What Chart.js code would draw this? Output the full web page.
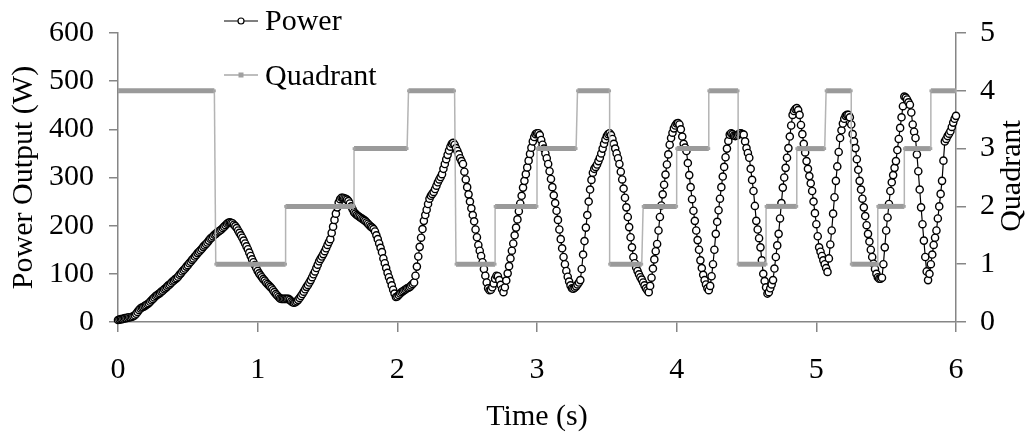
<!DOCTYPE html>
<html>
<head>
<meta charset="utf-8">
<script src="https://cdn.jsdelivr.net/npm/chart.js@4.4.1/dist/chart.umd.min.js"></script>
<style>
  html, body { margin: 0; padding: 0; background: #fff; }
  #wrap { width: 1026px; height: 435px; }
</style>
</head>
<body>
<div id="wrap"><canvas id="powerChart"></canvas></div>
<script>
const timeStep = 0.01;
const powerValues = [
  4,5,6,6,7,8,8,9,10,10,
  11,12,14,17,21,25,28,30,31,33,
  35,37,39,42,45,48,51,54,56,58,
  60,63,65,68,70,73,76,78,81,84,
  86,89,91,94,98,101,105,108,111,115,
  118,122,125,129,132,136,139,143,146,149,
  152,156,159,162,165,169,173,175,178,181,
  183,186,188,190,192,195,198,201,204,206,
  207,206,205,202,199,195,190,185,180,175,
  169,163,157,151,144,137,130,124,118,112,
  106,101,97,93,89,86,82,79,76,73,
  70,66,62,58,55,52,49,48,48,48,
  48,48,48,46,43,41,40,41,43,46,
  50,54,58,63,68,73,77,82,87,93,
  99,105,112,119,126,131,136,141,147,153,
  160,166,172,185,198,212,225,238,248,255,
  258,258,257,256,254,251,246,240,234,228,
  225,222,220,218,216,214,212,210,207,204,
  201,198,196,193,188,180,172,163,154,145,
  132,122,112,102,93,85,76,67,59,52,
  53,56,59,62,64,66,68,70,71,73,
  76,79,82,96,115,136,156,175,193,210,
  222,233,245,256,262,266,270,276,283,290,
  296,301,307,318,328,338,347,356,364,370,
  372,368,361,355,348,340,334,328,312,296,
  280,265,250,236,222,209,192,176,160,148,
  137,124,110,96,82,70,66,67,72,80,
  90,96,95,87,77,68,62,72,86,101,
  116,132,148,163,180,196,213,230,246,262,
  279,293,307,321,335,349,362,375,384,390,
  392,392,388,378,368,360,350,340,328,313,
  297,280,263,247,231,212,192,172,153,135,
  120,106,94,84,76,70,69,71,74,78,
  82,87,110,140,168,196,222,250,275,295,
  310,318,322,327,334,341,350,360,370,379,
  386,390,392,388,380,370,360,350,340,328,
  312,296,277,258,238,218,197,176,155,135,
  122,113,106,99,93,88,82,76,70,66,
  62,75,92,111,130,147,162,190,218,242,
  265,285,306,327,348,368,382,393,402,408,
  412,413,410,400,385,370,362,355,330,305,
  280,255,231,210,190,170,150,128,112,98,
  87,78,70,66,75,95,120,150,183,208,
  232,256,280,302,322,342,360,376,389,392,
  390,387,386,387,389,391,392,390,389,375,
  361,351,341,318,295,272,241,210,192,174,
  155,128,100,85,72,59,62,70,78,87,
  111,135,159,183,215,247,279,300,320,341,
  361,385,408,430,438,442,444,440,430,409,
  390,370,352,334,318,303,288,272,250,226,
  203,178,155,146,137,128,120,112,104,132,
  161,190,225,259,293,323,353,382,398,412,
  422,428,430,430,425,410,390,375,361,338,
  316,293,275,256,238,220,201,183,167,150,
  135,121,110,100,93,90,90,92,120,155,
  190,217,245,272,290,305,320,334,357,380,
  403,425,448,468,466,462,456,451,435,410,
  395,382,348,313,275,238,203,169,135,105,
  87,100,120,140,160,175,190,215,240,266,
  293,335,375,380,386,391,396,405,414,422,
  428
];

// quadrant steps: start time, end time, level
const qStart = [0.00, 0.70, 1.20, 1.69, 2.08, 2.42, 2.70, 3.00, 3.29, 3.52, 3.76, 4.00, 4.23, 4.44, 4.64, 4.86, 5.07, 5.25, 5.44, 5.63, 5.82];
const qEnd   = [0.69, 1.20, 1.69, 2.07, 2.41, 2.70, 3.00, 3.28, 3.52, 3.75, 4.00, 4.23, 4.44, 4.64, 4.86, 5.06, 5.25, 5.44, 5.63, 5.82, 6.00];
const qLevel = [4, 1, 2, 3, 4, 1, 2, 3, 4, 1, 2, 3, 4, 1, 2, 3, 4, 1, 2, 3, 4];

const xTicks = [0, 1, 2, 3, 4, 5, 6];
const seriesNames = ["Power", "Quadrant"];

const serif = "'Liberation Serif', 'Times New Roman', serif";
const axisGrey = "#868686";
const barGrey = "#9a9a9a";

const powerPoints = powerValues.map((p, i) => ({ x: +(i * timeStep).toFixed(2), y: p }));
const quadPoints = [];
qLevel.forEach((q, i) => {
  quadPoints.push({ x: qStart[i], y: q });
  quadPoints.push({ x: qEnd[i], y: q });
});

// legend and right-hand title drawn by hand so they sit where the original has them
const extras = {
  id: "extras",
  afterDraw(chart) {
    const c = chart.ctx;
    c.save();
    c.font = "30px " + serif;
    c.fillStyle = "#000";
    c.textBaseline = "middle";
    c.textAlign = "left";

    // Power entry
    c.strokeStyle = "#000";
    c.lineWidth = 1.2;
    c.beginPath(); c.moveTo(224, 21); c.lineTo(258, 21); c.stroke();
    c.fillStyle = "#fff";
    c.beginPath(); c.arc(241, 21, 3, 0, Math.PI * 2); c.fill(); c.stroke();
    c.fillStyle = "#000";
    c.fillText(seriesNames[0], 265, 22);

    // Quadrant entry
    c.strokeStyle = "#a8a8a8";
    c.lineWidth = 1.5;
    c.beginPath(); c.moveTo(224, 75); c.lineTo(258, 75); c.stroke();
    c.fillStyle = "#a0a0a0";
    c.fillRect(238.5, 72.5, 5, 5);
    c.fillStyle = "#000";
    c.fillText(seriesNames[1], 265, 77);

    // right axis title, reading upwards
    c.translate(1012, 176);
    c.rotate(-Math.PI / 2);
    c.textAlign = "center";
    c.fillText("Quadrant", 0, 0);
    c.restore();
  }
};

new Chart("powerChart", {
  type: "line",
  data: {
    datasets: [
      {
        label: seriesNames[1],
        data: quadPoints,
        yAxisID: "y2",
        order: 0,
        borderColor: barGrey,
        borderWidth: 5,
        pointStyle: "rect",
        pointRadius: 2,
        pointBackgroundColor: "#a4a4a4",
        pointBorderColor: "#a4a4a4",
        pointBorderWidth: 0,
        segment: {
          borderWidth: ctx => ctx.p0.parsed.y === ctx.p1.parsed.y ? 5 : 1.5,
          borderColor: ctx => ctx.p0.parsed.y === ctx.p1.parsed.y ? barGrey : "#b4b4b4"
        }
      },
      {
        label: seriesNames[0],
        data: powerPoints,
        yAxisID: "y",
        order: 1,
        clip: false,
        borderColor: "#000",
        borderWidth: 1.2,
        pointRadius: 3.6,
        pointBackgroundColor: "#fff",
        pointBorderColor: "#000",
        pointBorderWidth: 1.4
      }
    ]
  },
  options: {
    responsive: true,
    maintainAspectRatio: false,
    animation: false,
    layout: { padding: { top: 31, left: 0, right: 0, bottom: 0 } },
    plugins: {
      legend: { display: false },
      tooltip: { enabled: false }
    },
    scales: {
      x: {
        type: "linear",
        min: 0,
        max: 6,
        afterBuildTicks: s => { s.ticks = xTicks.map(v => ({ value: v })); },
        afterFit: s => { s.height = 113; },
        border: { color: axisGrey, width: 1.5 },
        grid: { drawOnChartArea: false, color: axisGrey, lineWidth: 1.5, tickLength: 10 },
        ticks: { color: "#000", padding: 20, font: { size: 30, family: serif } },
        title: { display: true, text: "Time (s)", color: "#000", padding: 0, font: { size: 30, family: serif } }
      },
      y: {
        position: "left",
        min: 0,
        max: 600,
        ticks: { stepSize: 100, color: "#000", padding: 15, font: { size: 30, family: serif } },
        afterFit: s => { s.width = 118; },
        border: { color: axisGrey, width: 1.5 },
        grid: { drawOnChartArea: false, color: axisGrey, lineWidth: 1.5, tickLength: 9 },
        title: { display: true, text: "Power Output (W)", color: "#000", padding: { top: 6 }, font: { size: 30, family: serif } }
      },
      y2: {
        position: "right",
        min: 0,
        max: 5,
        ticks: { stepSize: 1, color: "#000", padding: 14, font: { size: 30, family: serif } },
        afterFit: s => { s.width = 70; },
        border: { color: axisGrey, width: 1.5 },
        grid: { drawOnChartArea: false, color: axisGrey, lineWidth: 1.5, tickLength: 10 }
      }
    }
  },
  plugins: [extras]
});
</script>
</body>
</html>
